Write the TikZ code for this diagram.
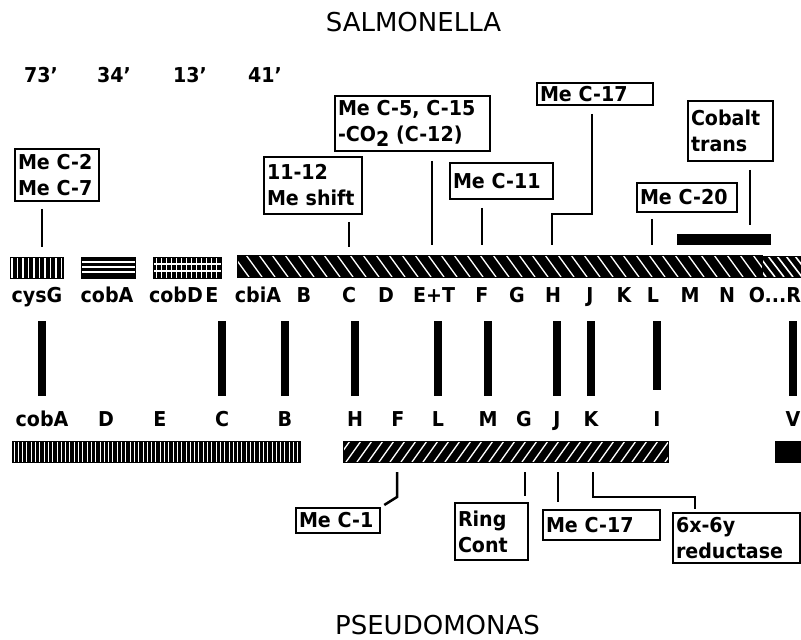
\documentclass[tikz,border=0pt]{standalone}
\usepackage{fontspec}
\setmainfont{DejaVu Sans}
\newfontfamily\narrowfont{DejaVu Sans}[FakeStretch=0.93]
\newcommand\mylab{\narrowfont\fontsize{20.5}{24}\selectfont\bfseries}
\newcommand\mybox{\narrowfont\fontsize{20.5}{26}\selectfont\bfseries}
\newcommand\mytitle{\fontsize{26}{30}\selectfont}
\begin{document}
\begin{tikzpicture}[x=1pt,y=-1pt,
  lab/.style={font=\mylab, inner sep=0pt, anchor=base, text height=15pt, text depth=4pt},
  ttl/.style={font=\mytitle, inner sep=0pt, anchor=base},
  box/.style={draw, line width=1.8pt, inner xsep=3pt, inner ysep=0pt, font=\mybox, align=left},
  conn/.style={line width=2.5pt},
  vbar/.style={line width=8pt},
  bar/.style={rectangle, fill=black, draw=black, line width=1pt, inner sep=0pt, outer sep=0pt},
  vl/.style 2 args={path picture={\foreach \n in {0,...,140}
     \draw[white,line width=#2] ([xshift={\n*#1+2}]path picture bounding box.south west) -- ([xshift={\n*#1+2}]path picture bounding box.north west);}},
  nwl/.style n args={3}{path picture={\foreach \n in {0,...,70}
     \draw[white,line width=#2] ([xshift={\n*#1-30}]path picture bounding box.north west) -- ([xshift={\n*#1-30+#3}]path picture bounding box.south west);}},
  nel/.style n args={3}{path picture={\foreach \n in {0,...,70}
     \draw[white,line width=#2] ([xshift={\n*#1-30}]path picture bounding box.south west) -- ([xshift={\n*#1-30+#3}]path picture bounding box.north west);}},
  hl/.style={path picture={\foreach \d in {5,10,15}
     \draw[white,line width=1.5pt] ([yshift=-\d]path picture bounding box.north west) -- ([yshift=-\d]path picture bounding box.north east);}},
  gridl/.style={path picture={\foreach \n in {0,...,20}
     \draw[white,line width=1pt] ([xshift={\n*5+3}]path picture bounding box.south west) -- ([xshift={\n*5+3}]path picture bounding box.north west);
     \foreach \d in {7,14}
     \draw[white,line width=1.2pt] ([yshift=-\d]path picture bounding box.north west) -- ([yshift=-\d]path picture bounding box.north east);}}
]
\useasboundingbox (0,0) rectangle (801,640);
\fill[white] (0,0) rectangle (801,640);

% titles
\node[ttl] (tS) at (413.5,31.5) {SALMONELLA};
\node[ttl] (tP) at (437.5,634) {PSEUDOMONAS};

% map positions
\node[lab] (m73) at (41,82) {73’};
\node[lab] (m34) at (114,82) {34’};
\node[lab] (m13) at (190,82) {13’};
\node[lab] (m41) at (265,82) {41’};

% Salmonella bars
\node[bar, vl={5.5}{1.4pt}, minimum width=53pt, minimum height=21pt] (barCysG) at (36.5,267.5) {};
\node[bar, hl, minimum width=54pt, minimum height=21pt] (barCobA) at (108,267.5) {};
\node[bar, gridl, minimum width=68pt, minimum height=21pt] (barCobD) at (187,267.5) {};
\node[bar, nwl={13}{1.3pt}{16}, minimum width=525pt, minimum height=22pt] (barLong) at (499.5,266) {};
\node[bar, nwl={9}{1.6pt}{16}, minimum width=44pt, minimum height=21pt] (barOR) at (784,266.5) {};
\node[bar, minimum width=93pt, minimum height=10pt] (barCo) at (723.5,239) {};

% Salmonella gene labels
\node[lab] (sCysG) at (37,302) {cysG};
\node[lab] (sCobA) at (107,302) {cobA};
\node[lab] (sCobD) at (176,302) {cobD};
\node[lab] (sE) at (212,302) {E};
\node[lab] (sCbiA) at (258,302) {cbiA};
\node[lab] (sB) at (304,302) {B};
\node[lab] (sC) at (349,302) {C};
\node[lab] (sD) at (386,302) {D};
\node[lab] (sET) at (434,302) {E+T};
\node[lab] (sF) at (482,302) {F};
\node[lab] (sG) at (517,302) {G};
\node[lab] (sH) at (553,302) {H};
\node[lab] (sJ) at (590,302) {J};
\node[lab] (sK) at (624,302) {K};
\node[lab] (sL) at (653,302) {L};
\node[lab] (sM) at (690,302) {M};
\node[lab] (sN) at (727,302) {N};
\node[lab] (sOR) at (775,302) {O...R};

% Pseudomonas gene labels
\node[lab] (pCobA) at (42,426) {cobA};
\node[lab] (pD) at (106,426) {D};
\node[lab] (pE) at (160,426) {E};
\node[lab] (pC) at (222,426) {C};
\node[lab] (pB) at (285,426) {B};
\node[lab] (pH) at (355,426) {H};
\node[lab] (pF) at (398,426) {F};
\node[lab] (pL) at (438,426) {L};
\node[lab] (pM) at (488,426) {M};
\node[lab] (pG) at (524,426) {G};
\node[lab] (pJ) at (557,426) {J};
\node[lab] (pK) at (591,426) {K};
\node[lab] (pI) at (657,426) {I};
\node[lab] (pV) at (793,426) {V};

% Pseudomonas bars
\node[bar, vl={4.3}{0.9pt}, minimum width=288pt, minimum height=21pt] (barP1) at (156,451.5) {};
\node[bar, nel={11}{1.3pt}{15}, minimum width=325pt, minimum height=21pt] (barP2) at (505.5,451.5) {};
\node[bar, minimum width=31pt, minimum height=21pt] (barP3) at (790.5,451.5) {};

% homology connectors
\draw[vbar, shorten <=15pt, shorten >=15pt] (sCysG.south -| pCobA.north) -- (pCobA.north);
\draw[vbar, shorten <=15pt, shorten >=15pt] (sE.south -| pC.north) -- (pC.north);
\draw[vbar, shorten <=15pt, shorten >=15pt] (sCbiA.south -| pB.north) -- (pB.north);
\draw[vbar, shorten <=15pt, shorten >=15pt] (sC.south -| pH.north) -- (pH.north);
\draw[vbar, shorten <=15pt, shorten >=15pt] (sET.south -| pL.north) -- (pL.north);
\draw[vbar, shorten <=15pt, shorten >=15pt] (sF.south -| pM.north) -- (pM.north);
\draw[vbar, shorten <=15pt, shorten >=15pt] (sH.south -| pJ.north) -- (pJ.north);
\draw[vbar, shorten <=15pt, shorten >=15pt] (sJ.south -| pK.north) -- (pK.north);
\draw[vbar, shorten <=15pt, shorten >=21pt] (sL.south -| pI.north) -- (pI.north);
\draw[vbar, shorten <=15pt, shorten >=15pt] (sOR.south -| pV.north) -- (pV.north);

% Salmonella function boxes
\node[box, minimum width=84pt, minimum height=52pt, text width=78pt] (bMe27) at (57,175) {Me C-2\\Me C-7};
\node[box, minimum width=98pt, minimum height=57pt, text width=92pt] (bShift) at (313,185.5) {11-12\\Me shift};
\node[box, minimum width=155pt, minimum height=55pt, text width=149pt] (bC515) at (412.5,123.5) {Me C-5, C-15\\-CO\raisebox{-5pt}{2} (C-12)};
\node[box, minimum width=103pt, minimum height=36pt, text width=97pt] (bC11) at (501.5,181) {Me C-11};
\node[box, minimum width=116pt, minimum height=22pt, text width=110pt] (bC17) at (595,94) {Me C-17};
\node[box, minimum width=100pt, minimum height=29pt, text width=94pt] (bC20) at (687,197.5) {Me C-20};
\node[box, minimum width=85pt, minimum height=60pt, text width=79pt] (bCob) at (730.5,131) {Cobalt\\trans};

\coordinate (xa) at (42,0);
\coordinate (xb) at (349,0);
\coordinate (xc) at (432,0);
\coordinate (xd) at (482,0);
\coordinate (k17a) at (592,214);
\coordinate (k17b) at (552,214);
\coordinate (xg) at (652,0);
\coordinate (xh) at (750,0);

\draw[conn, shorten <=7pt, shorten >=10pt] (bMe27.south -| xa) -- (barCysG.north -| xa);
\draw[conn, shorten <=7pt, shorten >=8pt] (bShift.south -| xb) -- (barLong.north -| xb);
\draw[conn, shorten <=9pt, shorten >=10pt] (bC515.south -| xc) -- (barLong.north -| xc);
\draw[conn, shorten <=8pt, shorten >=10pt] (bC11.south -| xd) -- (barLong.north -| xd);
\draw[conn, shorten <=8pt, shorten >=10pt] (bC17.south -| k17a) -- (k17a) -- (k17b) -- (barLong.north -| k17b);
\draw[conn, shorten <=6pt, shorten >=10pt] (bC20.south -| xg) -- (barLong.north -| xg);
\draw[conn, shorten <=8pt, shorten >=9pt] (bCob.south -| xh) -- (barCo.north -| xh);

% Pseudomonas function boxes
\node[box, minimum width=84pt, minimum height=25pt, text width=78pt] (pC1) at (338,520.5) {Me C-1};
\node[box, minimum width=73pt, minimum height=57pt, text width=67pt] (pRing) at (491.5,531.5) {Ring\\Cont};
\node[box, minimum width=117pt, minimum height=30pt, text width=111pt] (pC17) at (601.5,525) {Me C-17};
\node[box, minimum width=127pt, minimum height=50pt, text width=121pt] (p6x) at (736.5,538) {6x-6y\\reductase};

\coordinate (k1) at (397,497);
\coordinate (xr) at (525,0);
\coordinate (xs) at (558,0);
\coordinate (k6a) at (593,497);
\coordinate (k6b) at (695,497);

\draw[conn, shorten <=10pt, shorten >=4pt] (barP2.south -| k1) -- (k1) -- (pC1.north east);
\draw[conn, shorten <=10pt, shorten >=6pt] (barP2.south -| xr) -- (pRing.north -| xr);
\draw[conn, shorten <=10pt, shorten >=7pt] (barP2.south -| xs) -- (pC17.north -| xs);
\draw[conn, shorten <=10pt, shorten >=3pt] (barP2.south -| k6a) -- (k6a) -- (k6b) -- (p6x.north -| k6b);
\end{tikzpicture}
\end{document}
